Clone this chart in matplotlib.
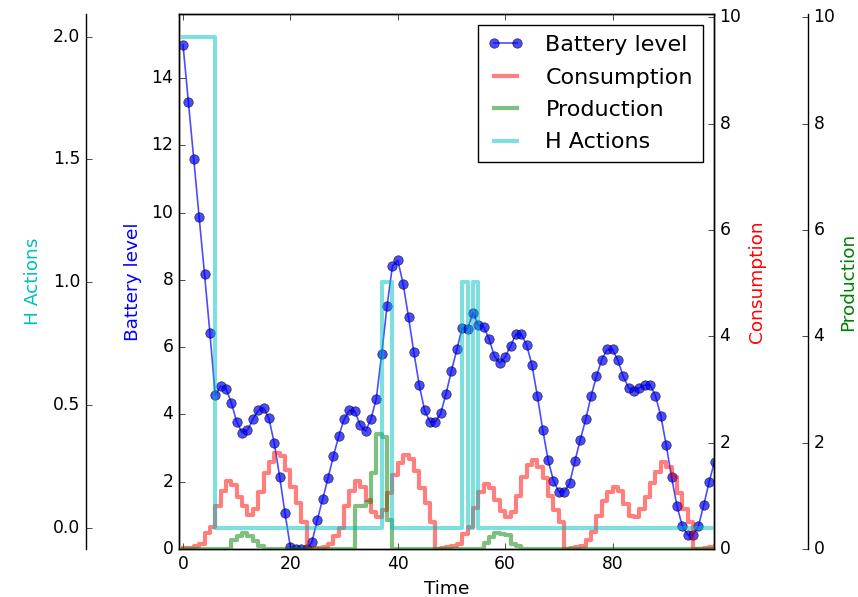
import matplotlib
matplotlib.use('Agg')
import matplotlib.pyplot as plt

plt.style.use('classic')
plt.rcParams['font.family'] = ['DejaVu Sans']

time = list(range(100))

battery = [14.98, 13.28, 11.59, 9.86, 8.18, 6.43, 4.57, 4.84, 4.77, 4.34,
           3.78, 3.46, 3.53, 3.85, 4.12, 4.20, 3.88, 3.14, 2.15, 1.06,
           0.05, 0.0, 0.0, 0.0, 0.20, 0.86, 1.48, 2.10, 2.76, 3.35,
           3.85, 4.12, 4.09, 3.68, 3.50, 3.86, 4.47, 5.79, 7.22, 8.41,
           8.58, 7.88, 6.89, 5.84, 4.87, 4.12, 3.78, 3.78, 4.03, 4.62,
           5.30, 5.93, 6.57, 6.53, 7.02, 6.65, 6.60, 6.25, 5.73, 5.53,
           5.71, 6.03, 6.38, 6.38, 6.07, 5.46, 4.55, 3.55, 2.64, 2.03,
           1.70, 1.70, 1.95, 2.62, 3.25, 3.85, 4.54, 5.13, 5.63, 5.93,
           5.93, 5.61, 5.13, 4.79, 4.70, 4.79, 4.87, 4.87, 4.55, 3.95,
           3.09, 2.13, 1.28, 0.68, 0.42, 0.42, 0.68, 1.31, 2.00, 2.59]

consumption = [0.02, 0.02, 0.05, 0.10, 0.30, 0.42, 0.80, 1.10, 1.27, 1.20,
               0.98, 0.80, 0.64, 0.75, 1.08, 1.42, 1.64, 1.80, 1.74, 1.48,
               1.17, 0.86, 0.50, 0.00, 0.02, 0.02, 0.04, 0.10, 0.25, 0.40,
               0.80, 1.10, 1.27, 1.17, 0.92, 0.70, 0.60, 0.73, 1.06, 1.40,
               1.62, 1.77, 1.70, 1.46, 1.15, 0.86, 0.50, 0.00, 0.02, 0.03,
               0.05, 0.10, 0.28, 0.42, 0.78, 1.08, 1.23, 1.15, 0.92, 0.72,
               0.60, 0.70, 1.00, 1.35, 1.58, 1.68, 1.55, 1.33, 1.00, 0.73,
               0.50, 0.00, 0.02, 0.03, 0.06, 0.17, 0.32, 0.62, 0.90, 1.08,
               1.17, 1.10, 0.85, 0.62, 0.60, 0.75, 0.98, 1.25, 1.45, 1.63,
               1.55, 1.35, 1.05, 0.75, 0.50, 0.00, 0.00, 0.02, 0.03, 0.05]

production = [0.0, 0.0, 0.0, 0.0, 0.0, 0.0, 0.0, 0.0, 0.0, 0.17,
              0.25, 0.30, 0.25, 0.15, 0.05, 0.0, 0.0, 0.0, 0.0, 0.0,
              0.0, 0.0, 0.0, 0.0, 0.0, 0.0, 0.0, 0.0, 0.0, 0.0,
              0.0, 0.0, 0.80, 0.80, 0.88, 1.42, 2.17, 2.10, 0.55, 0.0,
              0.0, 0.0, 0.0, 0.0, 0.0, 0.0, 0.0, 0.0, 0.0, 0.0,
              0.0, 0.0, 0.0, 0.0, 0.0, 0.0, 0.12, 0.22, 0.31, 0.28,
              0.27, 0.10, 0.05, 0.0, 0.0, 0.0, 0.0, 0.0, 0.0, 0.0,
              0.0, 0.0, 0.0, 0.0, 0.0, 0.0, 0.0, 0.0, 0.0, 0.0,
              0.0, 0.0, 0.0, 0.0, 0.0, 0.0, 0.0, 0.0, 0.0, 0.0,
              0.0, 0.0, 0.0, 0.0, 0.0, 0.0, 0.0, 0.0, 0.0, 0.0]

h_actions = [2, 2, 2, 2, 2, 2, 0, 0, 0, 0,
             0, 0, 0, 0, 0, 0, 0, 0, 0, 0,
             0, 0, 0, 0, 0, 0, 0, 0, 0, 0,
             0, 0, 0, 0, 0, 0, 0, 1, 1, 0,
             0, 0, 0, 0, 0, 0, 0, 0, 0, 0,
             0, 0, 1, 0, 1, 0, 0, 0, 0, 0,
             0, 0, 0, 0, 0, 0, 0, 0, 0, 0,
             0, 0, 0, 0, 0, 0, 0, 0, 0, 0,
             0, 0, 0, 0, 0, 0, 0, 0, 0, 0,
             0, 0, 0, 0, 0, 0, 0, 0, 0, 0]

fig = plt.figure(figsize=(8.58, 5.97), dpi=100)
fig.patch.set_facecolor('white')
host = fig.add_axes([179/858, 48/597, 535/858, 535/597])
par_c = host.twinx()
par_p = host.twinx()
par_h = host.twinx()


def hide_frame(ax):
    ax.set_frame_on(True)
    ax.patch.set_visible(False)
    for sp in ax.spines.values():
        sp.set_visible(False)


hide_frame(par_p)
par_p.spines['right'].set_visible(True)
par_p.spines['right'].set_position(('axes', (808 - 179) / 535))

hide_frame(par_h)
par_h.spines['left'].set_visible(True)
par_h.spines['left'].set_position(('axes', (86 - 179) / 535))
par_h.yaxis.set_ticks_position('left')
par_h.yaxis.set_label_position('left')

l1, = host.plot(time, battery, 'o-', color='b', alpha=0.7, lw=1.2, ms=6.8,
                mec='k', mew=0.5, label='Battery level')
l2, = par_c.step(time, consumption, where='post', color='r', alpha=0.5,
                 lw=3, label='Consumption')
l3, = par_p.step(time, production, where='post', color='g', alpha=0.5,
                 lw=3, label='Production')
l4, = par_h.step(time, h_actions, where='post', color='c', alpha=0.5,
                 lw=3, label='H Actions')

host.set_xlim(-0.75, 98.9)
host.set_ylim(0, 15.9)
par_c.set_ylim(0, 10.06)
par_p.set_ylim(0, 10.06)
par_h.set_ylim(-0.085, 2.092)

lab_fs = 13.3
host.set_xlabel('Time', fontsize=lab_fs, labelpad=5)
host.set_ylabel('Battery level', color='b', fontsize=lab_fs, labelpad=7)
par_c.set_ylabel('Consumption', color='r', fontsize=lab_fs, labelpad=4.5)
par_p.set_ylabel('Production', color='g', fontsize=lab_fs, labelpad=3)
par_h.set_ylabel('H Actions', color='c', fontsize=lab_fs, labelpad=8)

for ax in (host, par_c, par_p, par_h):
    ax.tick_params(labelsize=12.3)

lines = [l1, l2, l3, l4]
par_h.legend(lines, [l.get_label() for l in lines], loc='upper right',
             fontsize=16, numpoints=2, handlelength=1.6, handletextpad=1.0,
             borderpad=0.45, labelspacing=0.56)

fig.savefig('out.png', dpi=100, facecolor='white')
